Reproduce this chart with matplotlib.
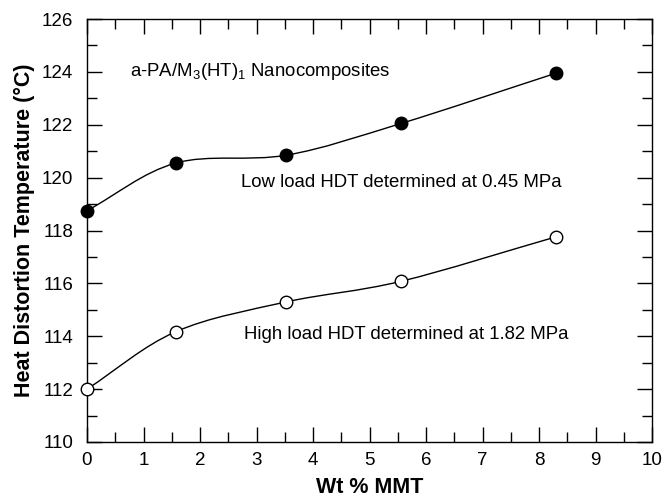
import matplotlib.pyplot as plt
import numpy as np
from matplotlib.path import Path
from matplotlib.patches import PathPatch
from matplotlib.ticker import MultipleLocator

plt.rcParams['font.family'] = ['Liberation Sans', 'DejaVu Sans']
plt.rcParams['mathtext.fontset'] = 'custom'
plt.rcParams['mathtext.rm'] = 'Liberation Sans'

# Data
wt_mmt = [0.0, 1.57, 3.53, 5.56, 8.30]
hdt_low = [118.75, 120.55, 120.85, 122.05, 123.95]   # 0.45 MPa
hdt_high = [112.0, 114.17, 115.30, 116.08, 117.76]   # 1.82 MPa


# smooth curve through the points (Catmull-Rom drawn as cubic Beziers)
def smooth_path(x, y):
    x = np.asarray(x, float)
    y = np.asarray(y, float)
    px = np.concatenate([[2 * x[0] - x[1]], x, [2 * x[-1] - x[-2]]])
    py = np.concatenate([[2 * y[0] - y[1]], y, [2 * y[-1] - y[-2]]])
    verts = [(x[0], y[0])]
    codes = [Path.MOVETO]
    for i in range(1, len(px) - 2):
        c1 = (px[i] + (px[i + 1] - px[i - 1]) / 6, py[i] + (py[i + 1] - py[i - 1]) / 6)
        c2 = (px[i + 1] - (px[i + 2] - px[i]) / 6, py[i + 1] - (py[i + 2] - py[i]) / 6)
        verts += [c1, c2, (px[i + 1], py[i + 1])]
        codes += [Path.CURVE4] * 3
    return Path(verts, codes)


fig = plt.figure(figsize=(6.64, 4.99), dpi=100)
ax = fig.add_axes([87 / 664, 57 / 499, 565 / 664, 423 / 499])

for ys, face in [(hdt_low, 'black'), (hdt_high, 'white')]:
    ax.add_patch(PathPatch(smooth_path(wt_mmt, ys), facecolor='none',
                           edgecolor='black', lw=1.0, zorder=2))
    ax.plot(wt_mmt, ys, 'o', ms=9, mfc=face, mec='black', mew=1.0,
            zorder=3, clip_on=False)

ax.set_xlim(0, 10)
ax.set_ylim(110, 126)
ax.xaxis.set_major_locator(MultipleLocator(1))
ax.xaxis.set_minor_locator(MultipleLocator(0.5))
ax.yaxis.set_major_locator(MultipleLocator(2))
ax.yaxis.set_minor_locator(MultipleLocator(1))
ax.tick_params(which='both', direction='in', top=True, right=True,
               labelsize=13.5, width=1.0, pad=7)
ax.tick_params(axis='y', which='both', pad=10)
ax.tick_params(which='major', length=10.5)
ax.tick_params(which='minor', length=7)
for s in ax.spines.values():
    s.set_linewidth(1.0)

ax.set_xlabel('Wt % MMT', fontsize=15.5, fontweight='bold', labelpad=6)
ax.set_ylabel('Heat Distortion Temperature (\u00b0C)', fontsize=15.5,
              fontweight='bold', labelpad=5)

ax.text(0.76, 124.0, r'a-PA/M$_\mathregular{3}$(HT)$_\mathregular{1}$ Nanocomposites',
        fontsize=13.4, va='center')
ax.text(2.73, 119.8, 'Low load HDT determined at 0.45 MPa', fontsize=13.4, va='center')
ax.text(2.78, 114.05, 'High load HDT determined at 1.82 MPa', fontsize=13.4, va='center')

fig.savefig('out.png', dpi=100)
